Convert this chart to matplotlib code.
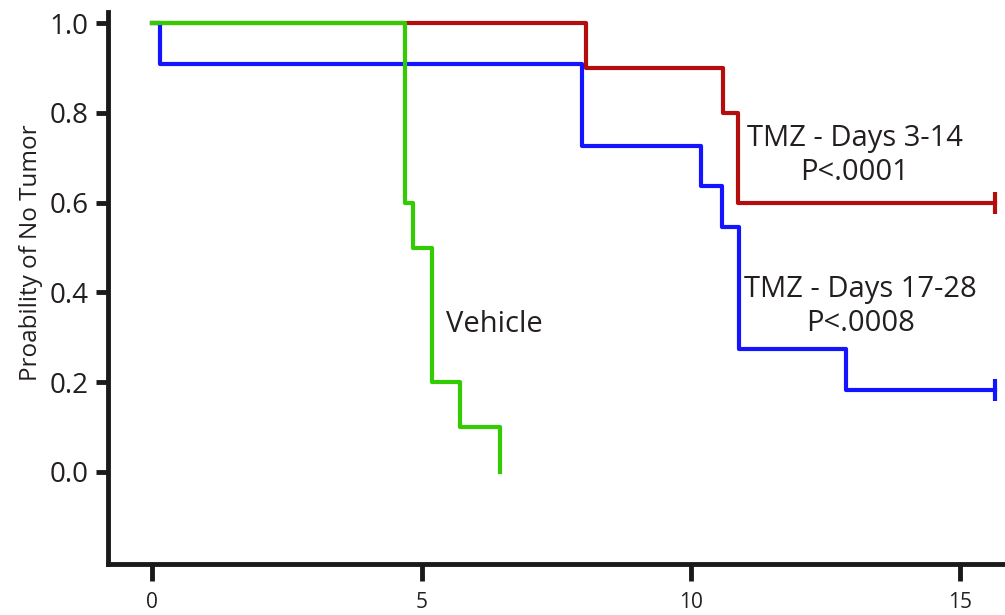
import matplotlib
matplotlib.use("Agg")
import matplotlib.pyplot as plt

# Data (Kaplan-Meier step curves)
red_times = [0, 8.05, 10.6, 10.88, 15.65]
red_surv = [1.0, 0.9, 0.8, 0.6, 0.6]
blue_times = [0, 0.15, 7.97, 10.18, 10.58, 10.9, 12.88, 15.65]
blue_surv = [1.0, 0.909, 0.727, 0.636, 0.545, 0.273, 0.182, 0.182]
green_times = [0, 4.7, 4.85, 5.2, 5.72, 6.45]
green_surv = [1.0, 0.6, 0.5, 0.2, 0.1, 0.0]
x_ticks = [0, 5, 10, 15]
y_ticks = [0.0, 0.2, 0.4, 0.6, 0.8, 1.0]

plt.rcParams['font.family'] = ['Open Sans', 'DejaVu Sans']
txt = '#231f20'
red = '#b30d0d'
blue = '#1414ff'
green = '#33cc00'

fig = plt.figure(figsize=(10.05, 6.15), dpi=100)
ax = fig.add_axes([0.1075, 0.083, 0.8925, 0.897])

ax.step(red_times, red_surv, where='post', color=red, lw=3.0, zorder=2)
ax.step(blue_times, blue_surv, where='post', color=blue, lw=3.0, zorder=3)
ax.step(green_times, green_surv, where='post', color=green, lw=3.0, zorder=4)
ax.plot([red_times[-1]], [red_surv[-1]], marker='|', color=red, ms=16, mew=3.0, zorder=2)
ax.plot([blue_times[-1]], [blue_surv[-1]], marker='|', color=blue, ms=16, mew=3.0, zorder=3)

ax.set_xlim(-0.82, 15.83)
ax.set_ylim(-0.205, 1.024)
ax.set_xticks(x_ticks)
ax.set_xticklabels([str(t) for t in x_ticks], fontsize=15, color=txt)
ax.set_yticks(y_ticks)
ax.set_yticklabels([f"{t:.1f}" for t in y_ticks], fontsize=20, color=txt)
ax.set_ylabel("Proability of No Tumor", fontsize=17.5, color=txt)
ax.yaxis.set_label_coords(-0.072, 0.565)

for s in ['top', 'right']:
    ax.spines[s].set_visible(False)
for s in ['left', 'bottom']:
    ax.spines[s].set_linewidth(3.5)
    ax.spines[s].set_color('#1a1a1a')
ax.tick_params(axis='y', length=9, width=3.5, color='#1a1a1a', pad=5)
ax.tick_params(axis='x', length=12, width=3.5, color='#1a1a1a', pad=8)

ax.text(13.04, 0.705, "TMZ - Days 3-14\nP<.0001", ha='center', va='center',
        fontsize=21, color=txt, linespacing=1.22)
ax.text(13.15, 0.368, "TMZ - Days 17-28\nP<.0008", ha='center', va='center',
        fontsize=21, color=txt, linespacing=1.22)
ax.text(5.45, 0.329, "Vehicle", ha='left', va='center', fontsize=21, color=txt)

fig.savefig("out.png", dpi=100)
